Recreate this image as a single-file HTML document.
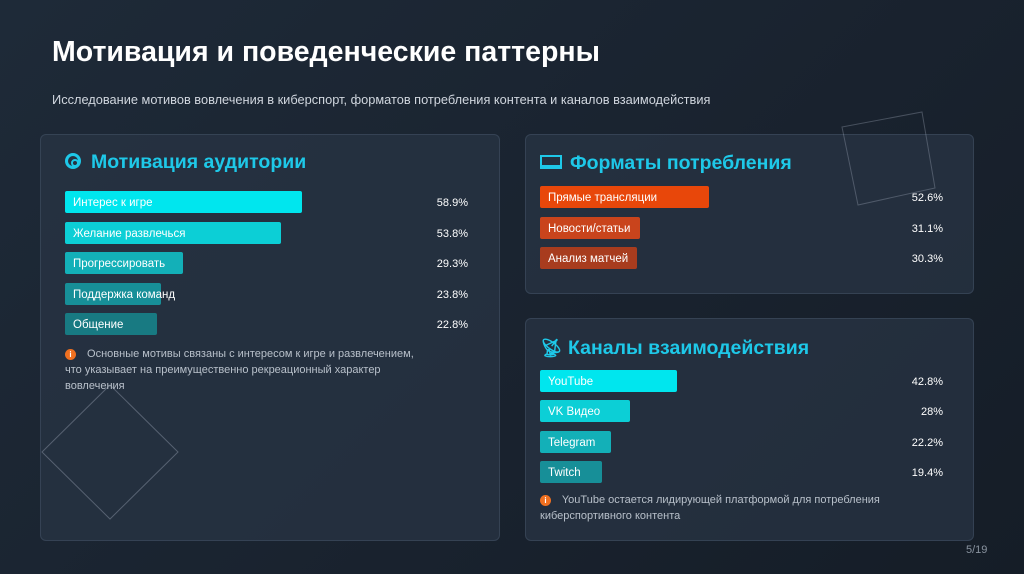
<!DOCTYPE html>
<html><head><meta charset="utf-8">
<style>
body{margin:0;width:1024px;height:574px;overflow:hidden;background:linear-gradient(135deg,#1e2a38 0%,#19222e 60%,#151d27 100%);font-family:"Liberation Sans","Noto Sans CJK SC",sans-serif;position:relative;color:#fff}
.abs{position:absolute}
.panel{position:absolute;background:rgba(40,52,68,0.75);border:1px solid rgba(70,85,105,0.5);border-radius:6px}
.ptitle{position:absolute;color:#1ec8e8;font-weight:bold;font-size:19.5px}
.bar{position:absolute;height:22px;border-radius:2px;font-size:11.5px;line-height:24px;padding-left:8px;box-sizing:border-box;white-space:nowrap;color:#fff}
.val{position:absolute;font-size:11px;text-align:right;width:60px;line-height:24px;color:#fff}
.note{position:absolute;font-size:11px;color:#b8c0ca;line-height:16px}
.info{display:inline-block;width:11px;height:11px;border-radius:50%;background:#f07020;color:#fff;font-size:8px;text-align:center;line-height:11px;font-weight:bold;margin-right:8px;vertical-align:0}
</style></head><body>
<div class="abs" style="left:52px;top:36px;font-size:28.5px;font-weight:bold">Мотивация и поведенческие паттерны</div>
<div class="abs" style="left:52px;top:92px;font-size:12.8px;color:#d0d6de">Исследование мотивов вовлечения в киберспорт, форматов потребления контента и каналов взаимодействия</div>

<div class="panel" style="left:40px;top:134px;width:458px;height:405px"></div>
<div class="panel" style="left:525px;top:134px;width:447px;height:158px"></div>
<div class="panel" style="left:525px;top:318px;width:447px;height:221px"></div>

<svg class="abs" style="left:0;top:0" width="1024" height="574">
<polygon points="110,385 178,452 110,519 42,452" fill="none" stroke="rgba(180,190,205,0.35)" stroke-width="1"/>
<polygon points="842,127 922,112 935,188 858,205" fill="none" stroke="rgba(180,190,205,0.3)" stroke-width="1"/>
</svg>

<div class="ptitle" style="left:65px;top:151px"><span style="display:inline-block;width:16px;height:16px;border:3px solid #1ec8e8;border-radius:50%;box-sizing:border-box;position:relative;vertical-align:-1px;margin-right:10px"><span style="position:absolute;left:3px;top:3px;width:4px;height:4px;border:2px solid #1ec8e8;border-radius:50%"></span></span>Мотивация аудитории</div>
<div class="ptitle" style="left:540px;top:152px"><span style="display:inline-block;width:22px;height:14px;border:2px solid #1ec8e8;box-sizing:border-box;vertical-align:0;margin-right:8px;border-bottom-width:4px"></span>Форматы потребления</div>
<div class="ptitle" style="left:540px;top:337px"><span style="display:inline-block;width:20px;color:#1ec8e8;font-size:18px;margin-right:8px">📡︎</span>Каналы взаимодействия</div>

<div id="charts"></div>
<div class="note" style="left:65px;top:346px;width:360px"><span class="info">i</span> Основные мотивы связаны с интересом к игре и развлечением, что указывает на преимущественно рекреационный характер вовлечения</div>
<div class="note" style="left:540px;top:492px;width:380px"><span class="info">i</span> YouTube остается лидирующей платформой для потребления киберспортивного контента</div>
<div class="abs" style="left:966px;top:544px;font-size:11px;color:#8a94a0">5/19</div>

<script>
const motivCats=["Интерес к игре","Желание развлечься","Прогрессировать","Поддержка команд","Общение"];
const motivVals=[58.9,53.8,29.3,23.8,22.8];
const motivLabels=["58.9%","53.8%","29.3%","23.8%","22.8%"];
const formatCats=["Прямые трансляции","Новости/статьи","Анализ матчей"];
const formatVals=[52.6,31.1,30.3];
const formatLabels=["52.6%","31.1%","30.3%"];
const chanCats=["YouTube","VK Видео","Telegram","Twitch"];
const chanVals=[42.8,28,22.2,19.4];
const chanLabels=["42.8%","28%","22.2%","19.4%"];

function drawChart(cats,vals,labels,x0,y0,step,scale,valX,colors,prefix){
  const root=document.getElementById('charts');
  const xs=v=>v*scale;
  cats.forEach((c,i)=>{
    const b=document.createElement('div');
    b.className='bar';
    
    
    b.style.left=x0+'px';b.style.top=(y0+i*step)+'px';
    b.style.width=xs(vals[i])+'px';b.style.background=colors[i];
    b.textContent=c;root.appendChild(b);
    const l=document.createElement('div');
    l.className='val';
    
    
    l.style.left=(valX-60)+'px';l.style.top=(y0+i*step)+'px';
    l.textContent=labels[i];root.appendChild(l);
  });
}
drawChart(motivCats,motivVals,motivLabels,65,191,30.5,4.02,468,["#00e6ee","#0ccfd6","#13b0b8","#178f98","#187a82"],'motivation');
drawChart(formatCats,formatVals,formatLabels,540,186,30.5,3.21,943,["#e8470a","#c9441c","#a83c1e"],'format');
drawChart(chanCats,chanVals,chanLabels,540,370,30.3,3.2,943,["#00e6ee","#0ccfd6","#13b0b8","#178f98"],'channel');
</script>
</body></html>
